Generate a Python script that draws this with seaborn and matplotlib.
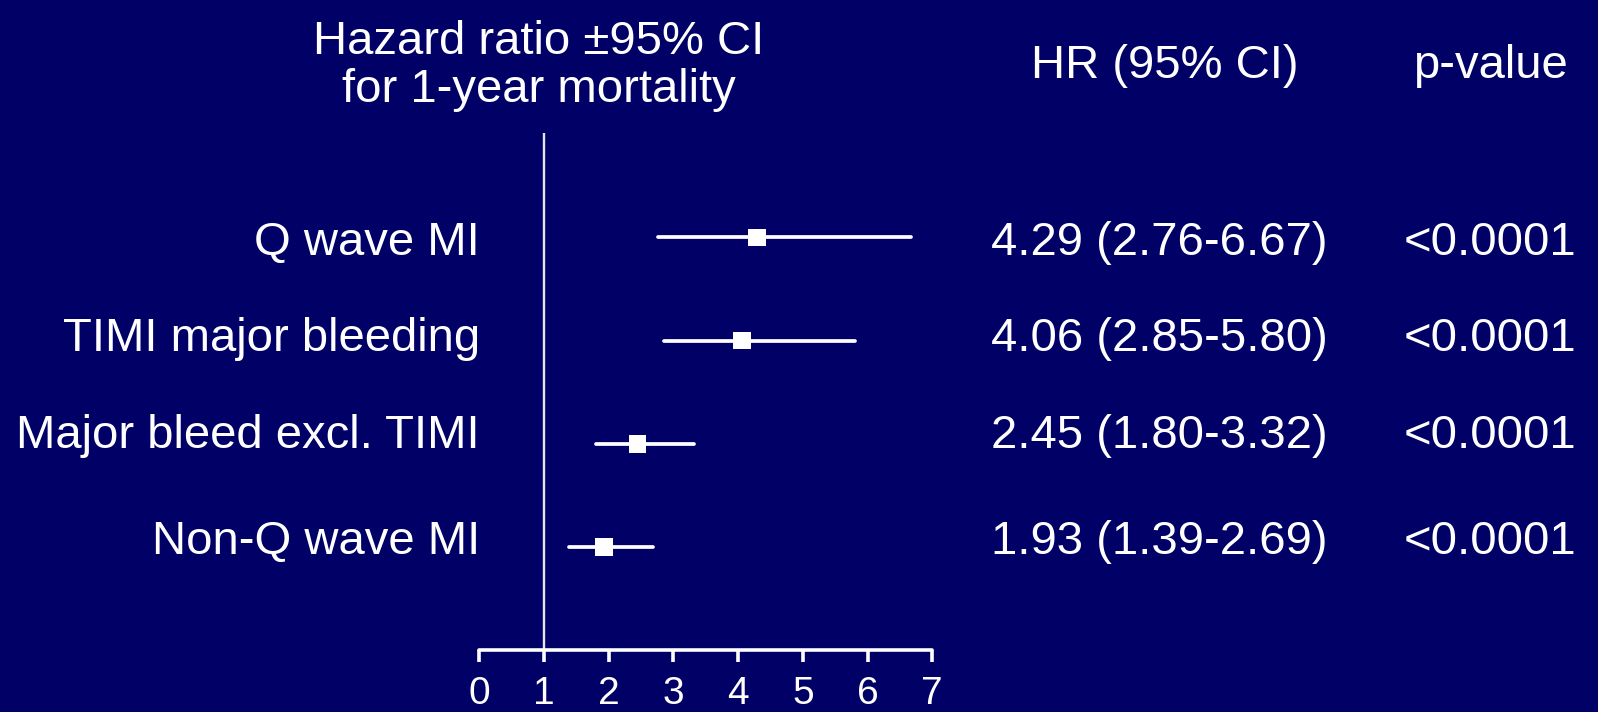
import matplotlib
matplotlib.use("Agg")
import matplotlib.pyplot as plt
from matplotlib.transforms import blended_transform_factory
import seaborn as sns
import pandas as pd

# Outcomes and their hazard ratios for 1-year mortality
outcomes = ["Q wave MI", "TIMI major bleeding", "Major bleed excl. TIMI", "Non-Q wave MI"]
hr = [4.29, 4.06, 2.45, 1.93]
ci_low = [2.76, 2.85, 1.80, 1.39]
ci_high = [6.67, 5.80, 3.32, 2.69]
p_values = ["<0.0001", "<0.0001", "<0.0001", "<0.0001"]
x_ticks = [0, 1, 2, 3, 4, 5, 6, 7]

title_lines = ["Hazard ratio \u00b195% CI", "for 1-year mortality"]
hr_header = "HR (95% CI)"
p_header = "p-value"

BG = "#000066"
FG = "white"

df = pd.DataFrame({
    "outcome": outcomes,
    "hr": hr,
    "lo": ci_low,
    "hi": ci_high,
    "p": p_values,
})
df["row"] = range(len(df))
df["ci_text"] = [f"{h:.2f} ({l:.2f}-{u:.2f})" for h, l, u in zip(df.hr, df.lo, df.hi)]

sns.set_style("white")
plt.rcParams["font.family"] = ["Liberation Sans", "DejaVu Sans"]

W, H = 1598, 712
fig = plt.figure(figsize=(W / 100, H / 100), dpi=100, facecolor=BG)
ax = fig.add_axes([479 / W, 62 / H, 453.3 / W, 516.7 / H])
ax.set_facecolor(BG)

# confidence interval whiskers
ci = ax.hlines(df["row"], df["lo"], df["hi"], colors=FG, linewidth=2.7, zorder=2)
ci.set_capstyle("round")

# point estimates as squares
sns.scatterplot(data=df, x="hr", y="row", marker="s", s=160, color=FG,
                edgecolor="none", linewidth=0, ax=ax, zorder=3, legend=False)

# line of no effect
ax.axvline(1, color="#e4e4ee", linewidth=1.7, zorder=1)

ax.set_xlim(0, 7)
ax.set_ylim(4.0, -1.01)
ax.set_xticks(x_ticks)
ax.set_xticklabels([str(t) for t in x_ticks])
ax.set_yticks([])
ax.set_xlabel("")
ax.set_ylabel("")

for side in ["left", "right", "top"]:
    ax.spines[side].set_visible(False)
ax.spines["bottom"].set_color(FG)
ax.spines["bottom"].set_linewidth(2.6)
ax.spines["bottom"].set_capstyle("round")
ax.tick_params(axis="x", direction="out", length=8.5, width=2.6, color=FG,
               labelcolor=FG, labelsize=28, pad=10, bottom=True)
for t in ax.xaxis.get_major_ticks():
    t.tick1line.set_solid_capstyle("round")

# text columns: x in figure fraction, y in data rows
tr = blended_transform_factory(fig.transFigure, ax.transData)
text_offsets = [0.17, 1.10, 2.04, 3.065]
fs = 34
for i, r in df.iterrows():
    y = text_offsets[i]
    ax.text(480 / W, y, r["outcome"], transform=tr, ha="right", va="baseline",
            color=FG, fontsize=fs, clip_on=False)
    ax.text(1159 / W, y, r["ci_text"], transform=tr, ha="center", va="baseline",
            color=FG, fontsize=fs, clip_on=False)
    ax.text(1490 / W, y, r["p"], transform=tr, ha="center", va="baseline",
            color=FG, fontsize=fs, clip_on=False)

# headers
fig.text(539 / W, 1 - 54 / H, title_lines[0], ha="center", va="baseline",
         color=FG, fontsize=fs)
fig.text(539 / W, 1 - 102 / H, title_lines[1], ha="center", va="baseline",
         color=FG, fontsize=fs)
fig.text(1165 / W, 1 - 78 / H, hr_header, ha="center", va="baseline",
         color=FG, fontsize=fs)
fig.text(1490 / W, 1 - 78 / H, p_header, ha="center", va="baseline",
         color=FG, fontsize=fs)

fig.savefig("out.png", dpi=100, facecolor=BG)
